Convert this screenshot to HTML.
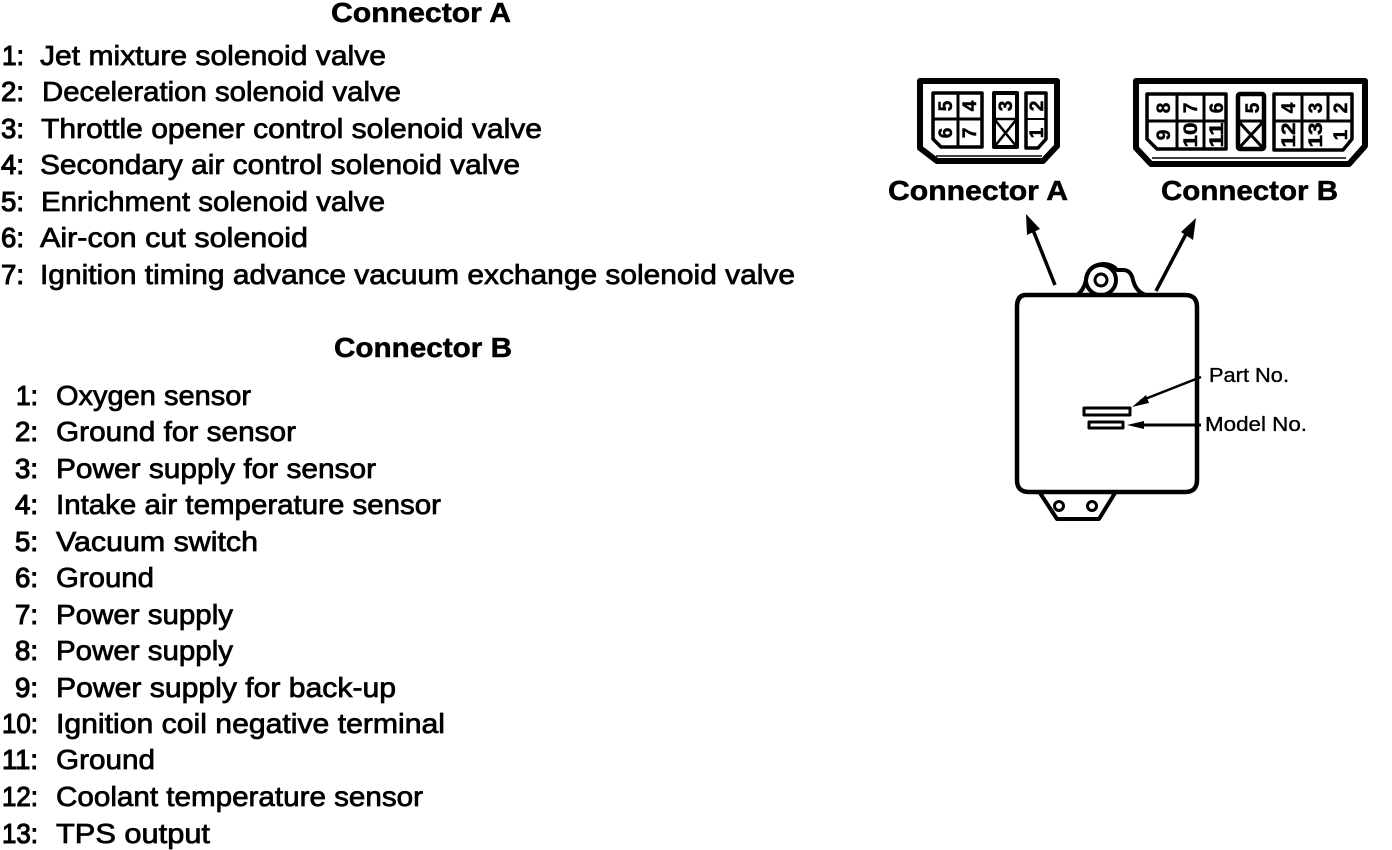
<!DOCTYPE html>
<html>
<head>
<meta charset="utf-8">
<style>
html,body{margin:0;padding:0;background:#fff;}
svg{display:block;}
text{font-family:"Liberation Sans",sans-serif;fill:#000;}
.t{font-size:28px;stroke:#000;stroke-width:.75px;}
.d{font-size:28px;stroke:#000;stroke-width:1.1px;}
.h{font-size:28px;font-weight:bold;stroke:#000;stroke-width:.5px;}
.n{font-size:19px;font-weight:bold;text-anchor:middle;stroke:#000;stroke-width:.5px;}
.s{font-size:20px;stroke:#000;stroke-width:.35px;}
.l{fill:none;stroke:#000;stroke-linejoin:round;}
</style>
</head>
<body>
<svg width="1392" height="850" viewBox="0 0 1392 850" xmlns="http://www.w3.org/2000/svg">
<rect width="1392" height="850" fill="#fff"/>

<text class="h" x="331" y="22" textLength="180" lengthAdjust="spacingAndGlyphs">Connector A</text>
<text class="d" x="2" y="65" textLength="22" lengthAdjust="spacingAndGlyphs">1:</text>
<text class="t" x="40" y="65" textLength="346" lengthAdjust="spacingAndGlyphs">Jet mixture solenoid valve</text>
<text class="d" x="1" y="101" textLength="23" lengthAdjust="spacingAndGlyphs">2:</text>
<text class="t" x="42" y="101" textLength="359" lengthAdjust="spacingAndGlyphs">Deceleration solenoid valve</text>
<text class="d" x="1" y="138" textLength="23" lengthAdjust="spacingAndGlyphs">3:</text>
<text class="t" x="41" y="138" textLength="501" lengthAdjust="spacingAndGlyphs">Throttle opener control solenoid valve</text>
<text class="d" x="1" y="174" textLength="23" lengthAdjust="spacingAndGlyphs">4:</text>
<text class="t" x="40" y="174" textLength="480" lengthAdjust="spacingAndGlyphs">Secondary air control solenoid valve</text>
<text class="d" x="1" y="211" textLength="23" lengthAdjust="spacingAndGlyphs">5:</text>
<text class="t" x="41" y="211" textLength="344" lengthAdjust="spacingAndGlyphs">Enrichment solenoid valve</text>
<text class="d" x="1" y="247" textLength="23" lengthAdjust="spacingAndGlyphs">6:</text>
<text class="t" x="40" y="247" textLength="268" lengthAdjust="spacingAndGlyphs">Air-con cut solenoid</text>
<text class="d" x="1" y="284" textLength="23" lengthAdjust="spacingAndGlyphs">7:</text>
<text class="t" x="40" y="284" textLength="755" lengthAdjust="spacingAndGlyphs">Ignition timing advance vacuum exchange solenoid valve</text>

<text class="h" x="334" y="357" textLength="178" lengthAdjust="spacingAndGlyphs">Connector B</text>
<text class="d" x="16" y="405" textLength="22" lengthAdjust="spacingAndGlyphs">1:</text>
<text class="t" x="56" y="405" textLength="195" lengthAdjust="spacingAndGlyphs">Oxygen sensor</text>
<text class="d" x="15" y="441" textLength="23" lengthAdjust="spacingAndGlyphs">2:</text>
<text class="t" x="56" y="441" textLength="240" lengthAdjust="spacingAndGlyphs">Ground for sensor</text>
<text class="d" x="15" y="478" textLength="23" lengthAdjust="spacingAndGlyphs">3:</text>
<text class="t" x="56" y="478" textLength="320" lengthAdjust="spacingAndGlyphs">Power supply for sensor</text>
<text class="d" x="15" y="514" textLength="23" lengthAdjust="spacingAndGlyphs">4:</text>
<text class="t" x="56" y="514" textLength="385" lengthAdjust="spacingAndGlyphs">Intake air temperature sensor</text>
<text class="d" x="15" y="551" textLength="23" lengthAdjust="spacingAndGlyphs">5:</text>
<text class="t" x="56" y="551" textLength="202" lengthAdjust="spacingAndGlyphs">Vacuum switch</text>
<text class="d" x="15" y="587" textLength="23" lengthAdjust="spacingAndGlyphs">6:</text>
<text class="t" x="56" y="587" textLength="98" lengthAdjust="spacingAndGlyphs">Ground</text>
<text class="d" x="15" y="624" textLength="23" lengthAdjust="spacingAndGlyphs">7:</text>
<text class="t" x="56" y="624" textLength="177" lengthAdjust="spacingAndGlyphs">Power supply</text>
<text class="d" x="15" y="660" textLength="23" lengthAdjust="spacingAndGlyphs">8:</text>
<text class="t" x="56" y="660" textLength="177" lengthAdjust="spacingAndGlyphs">Power supply</text>
<text class="d" x="15" y="697" textLength="23" lengthAdjust="spacingAndGlyphs">9:</text>
<text class="t" x="56" y="697" textLength="340" lengthAdjust="spacingAndGlyphs">Power supply for back-up</text>
<text class="d" x="2" y="733" textLength="36" lengthAdjust="spacingAndGlyphs">10:</text>
<text class="t" x="56" y="733" textLength="389" lengthAdjust="spacingAndGlyphs">Ignition coil negative terminal</text>
<text class="d" x="2" y="769" textLength="36" lengthAdjust="spacingAndGlyphs">11:</text>
<text class="t" x="56" y="769" textLength="99" lengthAdjust="spacingAndGlyphs">Ground</text>
<text class="d" x="2" y="806" textLength="36" lengthAdjust="spacingAndGlyphs">12:</text>
<text class="t" x="56" y="806" textLength="367" lengthAdjust="spacingAndGlyphs">Coolant temperature sensor</text>
<text class="d" x="2" y="843" textLength="36" lengthAdjust="spacingAndGlyphs">13:</text>
<text class="t" x="56" y="843" textLength="154" lengthAdjust="spacingAndGlyphs">TPS output</text>

<!-- Connector A -->
<path class="l" stroke-width="6" d="M920 81H1057V146L1043 161H937L920 148Z"/>
<path class="l" stroke-width="1.5" d="M936 156H1042"/>
<path class="l" stroke-width="3.5" d="M933 93H982V147H941L933 139Z"/>
<path class="l" stroke-width="3" d="M958 93V147M933 119H982"/>
<rect class="l" stroke-width="4" x="994" y="93" width="23" height="54"/>
<path class="l" stroke-width="2.5" d="M994 119H1017M995 120L1016 146M1016 120L995 146"/>
<path class="l" stroke-width="3.5" d="M1026 93H1046V139L1038 148H1026Z"/>
<path class="l" stroke-width="2" d="M1026 119H1046"/>
<text class="n" transform="translate(952 106) rotate(-90)">5</text>
<text class="n" transform="translate(976 106) rotate(-90)">4</text>
<text class="n" transform="translate(952 133) rotate(-90)">6</text>
<text class="n" transform="translate(976 133) rotate(-90)">7</text>
<text class="n" transform="translate(1012 106) rotate(-90)">3</text>
<text class="n" transform="translate(1043 106) rotate(-90)">2</text>
<text class="n" transform="translate(1043 133) rotate(-90)">1</text>
<text class="h" x="888" y="200" textLength="180" lengthAdjust="spacingAndGlyphs">Connector A</text>

<!-- Connector B -->
<path class="l" stroke-width="6" d="M1136 81H1365V146L1349 164H1151L1136 148Z"/>
<path class="l" stroke-width="1.5" d="M1152 158H1346"/>
<path class="l" stroke-width="3.5" d="M1147 94H1226V149H1157L1147 139Z"/>
<path class="l" stroke-width="3" d="M1177 94V149M1204 94V149M1147 121H1226"/>
<rect class="l" stroke-width="4.5" x="1238" y="94" width="26" height="55" rx="2"/>
<path class="l" stroke-width="3" d="M1238 121H1264M1240 123L1262 147M1262 123L1240 147"/>
<path class="l" stroke-width="3.5" d="M1274 94H1352V139L1343 150H1274Z"/>
<path class="l" stroke-width="3" d="M1302 94V150M1328 94V120M1274 121H1352"/>
<text class="n" transform="translate(1170 108) rotate(-90)">8</text>
<text class="n" transform="translate(1197 108) rotate(-90)">7</text>
<text class="n" transform="translate(1223 108) rotate(-90)">6</text>
<text class="n" transform="translate(1170 135) rotate(-90)">9</text>
<text class="n" transform="translate(1197 135) rotate(-90)" textLength="25" lengthAdjust="spacingAndGlyphs">10</text>
<text class="n" transform="translate(1223 135) rotate(-90)" textLength="25" lengthAdjust="spacingAndGlyphs">11</text>
<text class="n" transform="translate(1259 108) rotate(-90)">5</text>
<text class="n" transform="translate(1295 108) rotate(-90)">4</text>
<text class="n" transform="translate(1322 108) rotate(-90)">3</text>
<text class="n" transform="translate(1347 108) rotate(-90)">2</text>
<text class="n" transform="translate(1295 135) rotate(-90)" textLength="25" lengthAdjust="spacingAndGlyphs">12</text>
<text class="n" transform="translate(1322 135) rotate(-90)" textLength="25" lengthAdjust="spacingAndGlyphs">13</text>
<text class="n" transform="translate(1347 135) rotate(-90)">1</text>
<text class="h" x="1161" y="200" textLength="177" lengthAdjust="spacingAndGlyphs">Connector B</text>

<!-- Arrows to connectors -->
<path class="l" stroke-width="3.5" d="M1055 285L1033 230"/>
<path d="M1026 214L1040 229L1027 235Z" fill="#000"/>
<path class="l" stroke-width="3.5" d="M1156 291L1186 234"/>
<path d="M1196 218L1193 240L1181 232Z" fill="#000"/>

<!-- ECU body -->
<path class="l" stroke-width="4.5" d="M1026 295H1185Q1197 295 1197 307V480Q1197 492 1185 492H1029Q1017 492 1017 480V307Q1017 295 1026 295Z"/>
<path class="l" stroke-width="4" d="M1077 295Q1084 290 1086 280Q1088 265 1103 264Q1112 264 1117 270H1123Q1131 270 1133 280Q1136 292 1146 295"/>
<circle class="l" cx="1101" cy="280" r="15" stroke-width="4" fill="#fff"/>
<circle class="l" cx="1101" cy="280" r="6" stroke-width="3"/>
<path class="l" stroke-width="4" d="M1040 493L1057 519H1099L1115 493"/>
<circle class="l" cx="1059" cy="506" r="4.5" stroke-width="3"/>
<circle class="l" cx="1092" cy="506" r="4.5" stroke-width="3"/>

<!-- Labels -->
<rect class="l" stroke-width="3" x="1084" y="408" width="46" height="7"/>
<rect class="l" stroke-width="3" x="1089" y="422" width="34" height="6"/>
<path class="l" stroke-width="2.5" d="M1201 377L1140 401"/>
<path d="M1132 407L1146 395L1149 403Z" fill="#000"/>
<path class="l" stroke-width="3" d="M1201 425H1140"/>
<path d="M1127 425L1144 421V429Z" fill="#000"/>
<text class="s" x="1209" y="382" textLength="80" lengthAdjust="spacingAndGlyphs">Part No.</text>
<text class="s" x="1205" y="431" textLength="102" lengthAdjust="spacingAndGlyphs">Model No.</text>
</svg>
</body>
</html>
